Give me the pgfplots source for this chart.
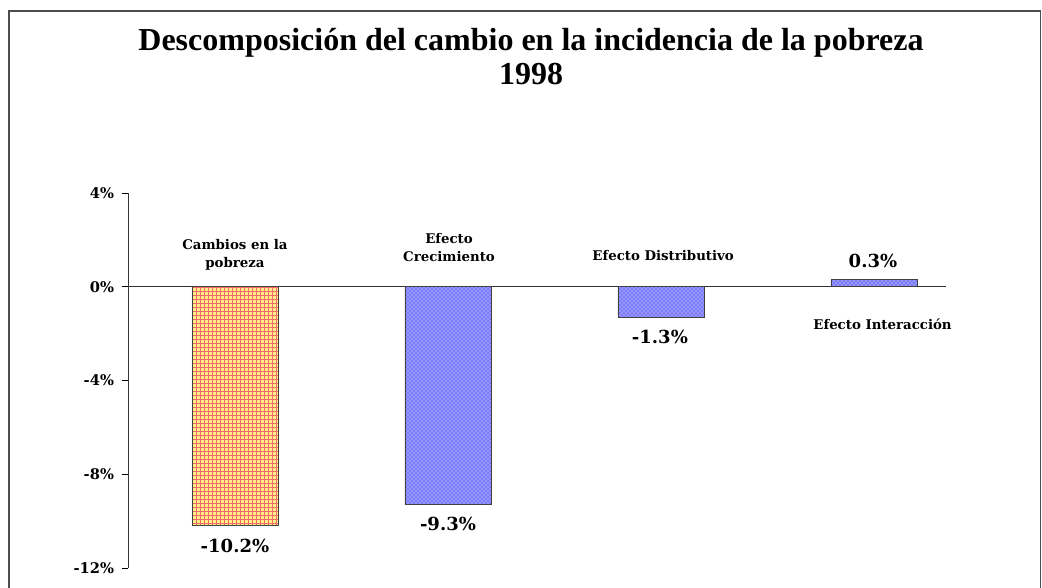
\documentclass[border=0pt]{standalone}
\usepackage{fontspec}
\setmainfont{Liberation Serif}
\newfontfamily\lab{DejaVu Serif}
\usepackage{pgfplots}
\pgfplotsset{compat=1.18}
\usetikzlibrary{patterns}

\definecolor{barblue}{RGB}{122,122,250}
\definecolor{barorange}{RGB}{255,238,135}
\definecolor{gridred}{RGB}{245,105,105}
\newcommand\catf{\lab\bfseries\fontsize{10}{13.5}\selectfont}
\newcommand\valf{\lab\bfseries\fontsize{13.5}{15}\selectfont}

\begin{document}
\begin{tikzpicture}
\useasboundingbox (0,0) rectangle (781.5pt,-440.25pt);
\draw[line width=1.1pt, black!70] (6.75pt,-8.25pt) rectangle (780.4pt,-470pt);
\node[font=\fontsize{21}{25}\selectfont\bfseries, text=black!60, anchor=base] at (398.25pt,0.9pt) {Gráfico No. 3};
\node[font=\fontsize{24}{28}\selectfont\bfseries, anchor=base] at (398.25pt,-37.5pt) {Descomposición del cambio en la incidencia de la pobreza};
\node[font=\fontsize{24}{28}\selectfont\bfseries, anchor=base] at (398.25pt,-63.5pt) {1998};

\begin{axis}[
  at={(96pt,-426pt)}, anchor=south west,
  scale only axis, width=613.5pt, height=281.25pt,
  xmin=-0.502, xmax=3.338, ymin=-12, ymax=4,
  axis x line=middle, axis y line=left,
  axis line style={-, black!80, line width=0.75pt},
  xtick=\empty,
  ytick={-12,-8,-4,0,4},
  yticklabels={-12\%,-8\%,-4\%,0\%,4\%},
  tick label style={font=\lab\bfseries\fontsize{11}{13}\selectfont},
  yticklabel style={xshift=-2.5pt},
  ytick style={black, line width=0.75pt},
  tick align=outside, major tick length=4.5pt,
  ybar, bar width=0.404, bar shift=0pt,
  clip=false,
]
\addplot[draw=black!75, line width=0.6pt, fill=barorange, postaction={pattern=grid, pattern color=gridred}] coordinates {(0,-10.2)};
\addplot[draw=black!75, line width=0.6pt, fill=barblue, postaction={pattern=crosshatch dots, pattern color=white}] coordinates {(1,-9.3) (2,-1.3) (3,0.3)};

\node[font=\catf, align=center] at (axis cs:0,1.37) {Cambios en la\\pobreza};
\node[font=\catf, align=center] at (axis cs:1.005,1.67) {Efecto\\Crecimiento};
\node[font=\catf] at (axis cs:2.01,1.32) {Efecto Distributivo};
\node[font=\catf] at (axis cs:3.04,-1.58) {Efecto Interacción};
\node[font=\valf] at (axis cs:2.995,1.11) {0.3\%};
\node[font=\valf] at (axis cs:1.995,-2.14) {-1.3\%};
\node[font=\valf] at (axis cs:0,-11.07) {-10.2\%};
\node[font=\valf] at (axis cs:1,-10.13) {-9.3\%};
\end{axis}
\end{tikzpicture}
\end{document}
